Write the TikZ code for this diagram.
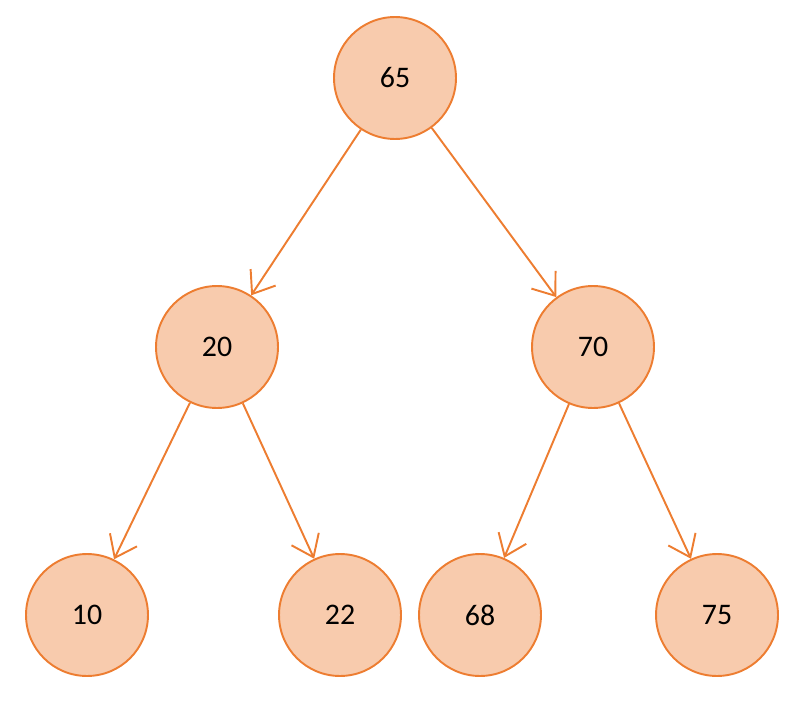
\documentclass[tikz,border=0pt]{standalone}
\usepackage{fontspec}
\setmainfont{Carlito}
\usetikzlibrary{arrows.meta}
\definecolor{edgeorange}{HTML}{ED7D31}
\definecolor{fillorange}{HTML}{F8CBAD}

\begin{document}
\begin{tikzpicture}[
		x=0.02cm, y=-0.02cm,
		>={Straight Barb[length=4mm, width=6mm]},
		keynode/.style={circle, draw=edgeorange, fill=fillorange, line width=1.1pt, minimum size=2.44cm, inner sep=0pt, font=\fontsize{17}{20}\selectfont},
		link/.style={->, draw=edgeorange, line width=1.1pt}
		]
		\useasboundingbox (0,0) rectangle (811,710);
		
		% Root
		\node[keynode] (k65) at (395,78) {65};
		
		% Second level
		\node[keynode] (k20) at (217,347) {20};
		\node[keynode] (k70) at (593,347) {70};
		
		% Leaves
		\node[keynode] (k10) at (87,615) {10};
		\node[keynode] (k22) at (340,615) {22};
		\node[keynode] (k68) at (480,615) {68};
		\node[keynode] (k75) at (717,615) {75};
		
		% Edges
		\draw[link] (k65) -- (k20);
		\draw[link] (k65) -- (k70);
		\draw[link] (k20) -- (k10);
		\draw[link] (k20) -- (k22);
		\draw[link] (k70) -- (k68);
		\draw[link] (k70) -- (k75);
		
	\end{tikzpicture}
\end{document}
